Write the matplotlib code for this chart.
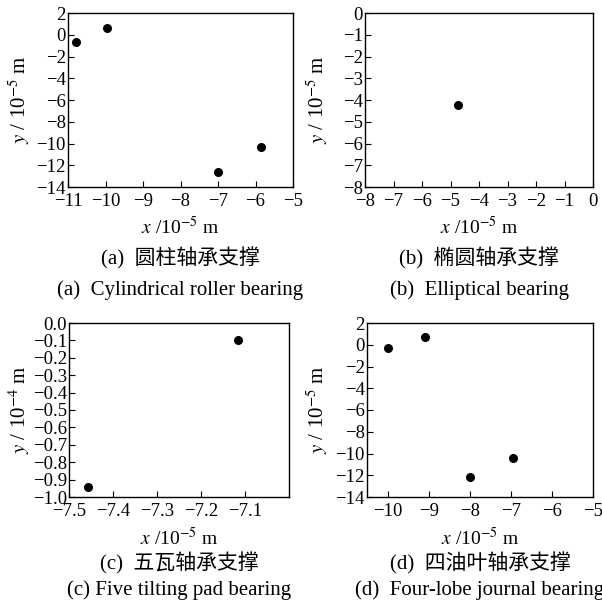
import numpy as np
import matplotlib
matplotlib.use('Agg')
import matplotlib.pyplot as plt

plt.rcParams['font.family'] = ['Liberation Serif', 'Noto Sans CJK SC']
plt.rcParams['mathtext.fontset'] = 'stix'
plt.rcParams['font.size'] = 13
plt.rcParams['axes.unicode_minus'] = True

# (a) cylindrical roller bearing
xa = [-10.8, -9.95, -7.0, -5.85]
ya = [-0.7, 0.6, -12.6, -10.3]
# (b) elliptical bearing
xb = [-4.75]
yb = [-4.25]
# (c) five tilting pad bearing
xc = [-7.457, -7.115]
yc = [-0.94, -0.10]
# (d) four-lobe journal bearing
xd = [-10.0, -9.1, -8.0, -6.95]
yd = [-0.3, 0.7, -12.2, -10.4]

W, H = 602, 608
fig = plt.figure(figsize=(W/100, H/100), dpi=100)

def px_axes(l, t, r, b):
    return fig.add_axes([l/W, 1-b/H, (r-l)/W, (b-t)/H])

def fmt(f, v):
    s = f % v
    if s.startswith('-') and float(s) == 0:
        s = s[1:]
    return s.replace('-', '\u2212')

panels = [
    dict(box=(68, 13, 293, 187), x=xa, y=ya, xlim=(-11, -5), ylim=(-14, 2),
         xt=np.arange(-11, -4, 1), yt=np.arange(-14, 3, 2), xfmt='%d', yfmt='%d',
         ylab=r'$y$ / 10$^{-5}$ m', cx=180, ylx=19, xly=227,
         cn='(a)  圆柱轴承支撑', en='(a)  Cylindrical roller bearing', cny=258, eny=290),
    dict(box=(365, 13, 593, 187), x=xb, y=yb, xlim=(-8, 0), ylim=(-8, 0),
         xt=np.arange(-8, 1, 1), yt=np.arange(-8, 1, 1), xfmt='%d', yfmt='%d',
         ylab=r'$y$ / 10$^{-5}$ m', cx=479, ylx=317, xly=227,
         cn='(b)  椭圆轴承支撑', en='(b)  Elliptical bearing', cny=258, eny=290),
    dict(box=(69, 323, 289, 497), x=xc, y=yc, xlim=(-7.5, -7.0), ylim=(-1.0, 0.0),
         xt=[-7.5, -7.4, -7.3, -7.2, -7.1], yt=np.round(np.arange(-1.0, 0.01, 0.1), 1),
         xfmt='%.1f', yfmt='%.1f',
         ylab=r'$y$ / 10$^{-4}$ m', cx=179, ylx=19, xly=538,
         cn='(c)  五瓦轴承支撑', en='(c) Five tilting pad bearing', cny=563, eny=590),
    dict(box=(367, 323, 593, 497), x=xd, y=yd, xlim=(-10.5, -5), ylim=(-14, 2),
         xt=np.arange(-10, -4, 1), yt=np.arange(-14, 3, 2), xfmt='%d', yfmt='%d',
         ylab=r'$y$ / 10$^{-5}$ m', cx=480, ylx=317, xly=538,
         cn='(d)  四油叶轴承支撑', en='(d)  Four-lobe journal bearing', cny=563, eny=590),
]

for p in panels:
    ax = px_axes(*p['box'])
    ax.scatter(p['x'], p['y'], s=30, color='black', zorder=3)
    ax.set_xlim(*p['xlim'])
    ax.set_ylim(*p['ylim'])
    ax.set_xticks(p['xt'])
    ax.set_yticks(p['yt'])
    ax.set_xticklabels([fmt(p['xfmt'], v) for v in p['xt']])
    ax.set_yticklabels([fmt(p['yfmt'], v) for v in p['yt']])
    ax.tick_params(direction='in', length=4, width=0.8, labelsize=13.5)
    ax.tick_params(axis='x', pad=4)
    ax.tick_params(axis='y', pad=1.5)
    for s in ax.spines.values():
        s.set_linewidth(1.0)
    l, t, r, b = p['box']
    fig.text(p['ylx']/W, 1-((t+b)/2)/H, p['ylab'], rotation=90, ha='center', va='center', fontsize=15)
    fig.text(((l+r)/2)/W, 1-p['xly']/H, r'$x$ /10$^{-5}$ m', ha='center', va='center', fontsize=14)
    fig.text(p['cx']/W, 1-p['cny']/H, p['cn'], ha='center', va='center', fontsize=15)
    fig.text(p['cx']/W, 1-p['eny']/H, p['en'], ha='center', va='center', fontsize=15)

fig.savefig('out.png', dpi=100)
